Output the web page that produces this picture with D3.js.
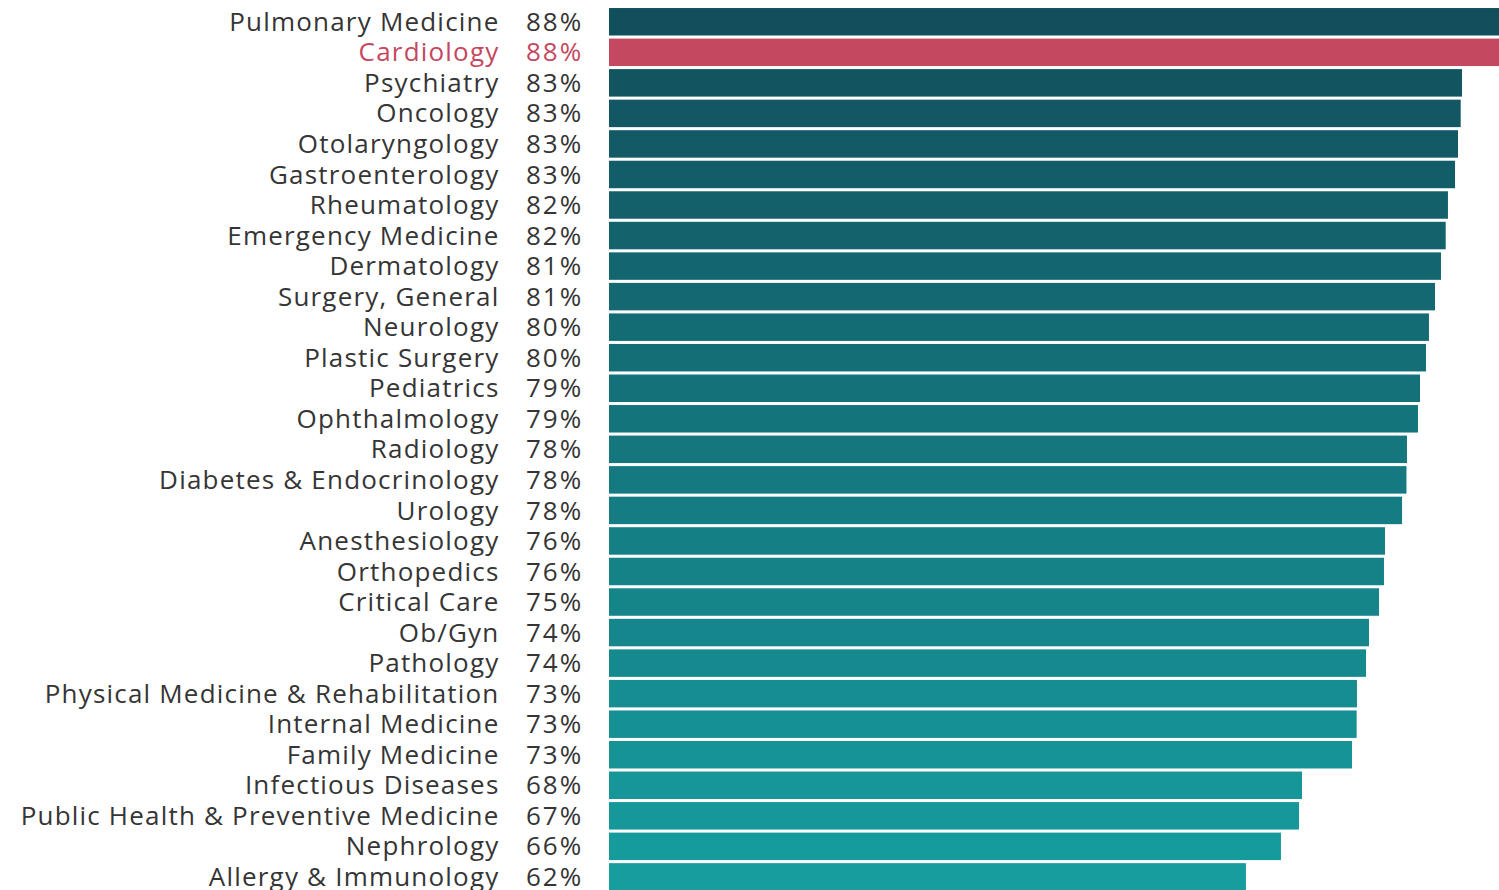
<!DOCTYPE html>
<html>
<head>
<meta charset="utf-8">
<script src="https://cdn.jsdelivr.net/npm/d3@7"></script>
<style>
  body { margin: 0; background: #fff; }
  svg text { font-family: "Open Sans", Lato, sans-serif; }
</style>
</head>
<body>
<div class="chart"></div>
<script>
var specialties = [
    "Pulmonary Medicine", "Cardiology", "Psychiatry", "Oncology", "Otolaryngology",
    "Gastroenterology", "Rheumatology", "Emergency Medicine", "Dermatology",
    "Surgery, General", "Neurology", "Plastic Surgery", "Pediatrics", "Ophthalmology",
    "Radiology", "Diabetes & Endocrinology", "Urology", "Anesthesiology", "Orthopedics",
    "Critical Care", "Ob/Gyn", "Pathology", "Physical Medicine & Rehabilitation",
    "Internal Medicine", "Family Medicine", "Infectious Diseases",
    "Public Health & Preventive Medicine", "Nephrology", "Allergy & Immunology"
];

// bar lengths
var values = [
    88.4, 88.2, 83.06, 82.93, 82.67, 82.38, 81.69, 81.47, 81.01, 80.43, 79.84, 79.55,
    78.97, 78.77, 77.7, 77.65, 77.22, 75.56, 75.46, 74.98, 74.0, 73.71, 72.83, 72.8,
    72.35, 67.48, 67.19, 65.43, 62.02
];

// printed percentages
var pctLabels = [
    88, 88, 83, 83, 83, 83, 82, 82, 81, 81, 80, 80, 79, 79, 78, 78, 78, 76, 76, 75,
    74, 74, 73, 73, 73, 68, 67, 66, 62
];

var highlight = "Cardiology";

var w = 1499,
    h = 890;

var svg = d3.select(".chart")
    .append("svg")
    .attr("width", w)
    .attr("height", h);

var x = d3.scaleLinear()
    .domain([0, 100])
    .range([609, 1636]);

var y = d3.scaleBand()
    .domain(specialties)
    .range([8 - 1.5, 8 - 1.5 + 30.54 * specialties.length])
    .paddingInner(0.1)
    .paddingOuter(0.05);

var shade = d3.scaleLinear()
    .domain([0, specialties.length - 1])
    .range(["#124f5c", "#169e9f"])
    .interpolate(d3.interpolateRgb);

var rows = svg.selectAll(".row")
    .data(specialties)
    .enter()
    .append("g")
    .attr("class", "row");

rows.append("rect")
    .attr("x", x(0))
    .attr("y", function (d) { return y(d); })
    .attr("width", function (d, i) { return x(values[i]) - x(0); })
    .attr("height", y.bandwidth())
    .attr("fill", function (d, i) { return d === highlight ? "#c4485f" : shade(i); });

rows.append("text")
    .attr("x", 499.5)
    .attr("y", function (d) { return y(d) + y.bandwidth() / 2; })
    .attr("dy", "0.35em")
    .attr("text-anchor", "end")
    .attr("font-size", 26)
    .attr("letter-spacing", 1.2)
    .attr("fill", function (d) { return d === highlight ? "#c4485f" : "#353535"; })
    .text(function (d) { return d; });

rows.append("text")
    .attr("x", 526)
    .attr("y", function (d) { return y(d) + y.bandwidth() / 2; })
    .attr("dy", "0.35em")
    .attr("font-size", 26)
    .attr("letter-spacing", 2)
    .attr("fill", function (d) { return d === highlight ? "#c4485f" : "#353535"; })
    .text(function (d, i) { return pctLabels[i] + "%"; });
</script>
</body>
</html>
